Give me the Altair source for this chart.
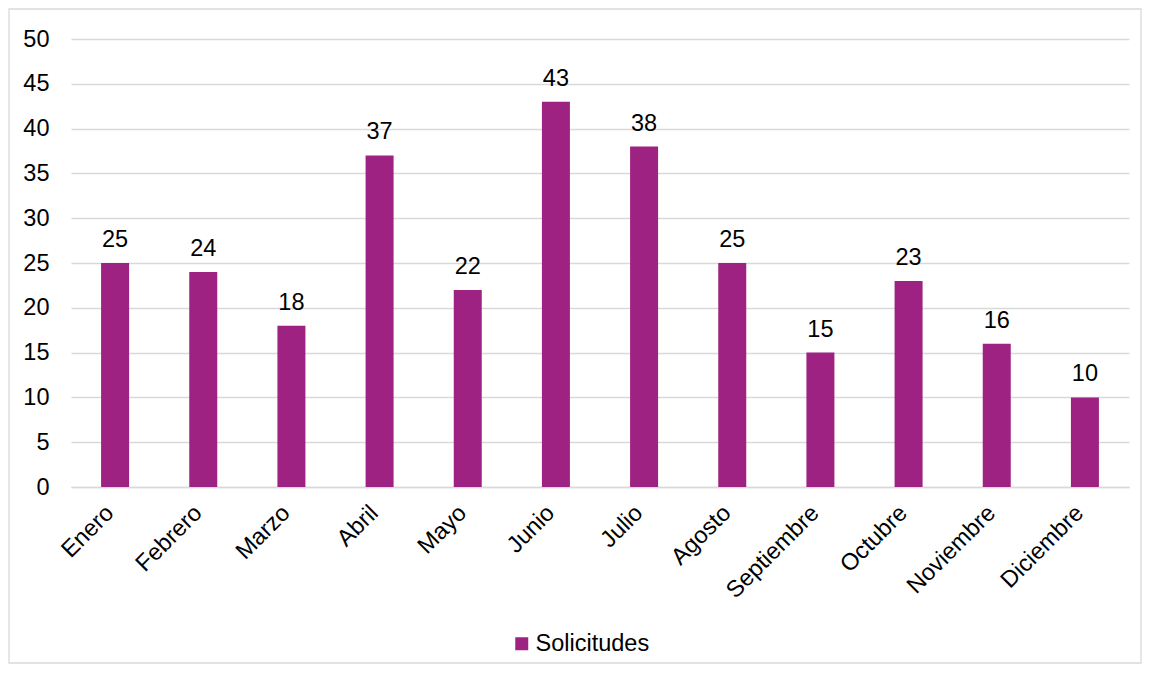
import altair as alt
import pandas as pd

months = ["Enero", "Febrero", "Marzo", "Abril", "Mayo", "Junio", "Julio",
          "Agosto", "Septiembre", "Octubre", "Noviembre", "Diciembre"]
values = [25, 24, 18, 37, 22, 43, 38, 25, 15, 23, 16, 10]
series = ["Solicitudes"] * len(months)

df = pd.DataFrame({"mes": months, "valor": values, "serie": series})

FONT = "Liberation Sans"
FS = 23.5
W, H = 1058, 448
COLOR = "#9E2281"

base = alt.Chart(df)

x = alt.X("mes:N", sort=months, title=None,
          scale=alt.Scale(paddingInner=0, paddingOuter=0),
          axis=alt.Axis(labelAngle=-45, labelAlign="right", labelBaseline="middle",
                        labelPadding=22, labelOffset=-5, ticks=False, domainColor="#d9d9d9",
                        domainWidth=1.3, labelFontSize=FS, labelColor="#000000",
                        labelFont=FONT))
y = alt.Y("valor:Q", title=None,
          scale=alt.Scale(domain=[0, 50]),
          axis=alt.Axis(values=list(range(0, 55, 5)), ticks=False, domain=False,
                        gridColor="#d9d9d9", gridWidth=1.3, labelPadding=22,
                        labelFontSize=FS, labelColor="#000000", labelFont=FONT))

bars = base.mark_bar(size=28).encode(
    x=x, y=y,
    color=alt.Color("serie:N", title=None,
                    scale=alt.Scale(domain=["Solicitudes"], range=[COLOR]),
                    legend=alt.Legend(orient="none", legendX=439, legendY=593,
                                      symbolType="square", symbolSize=169,
                                      symbolStrokeWidth=0, labelFontSize=FS,
                                      labelFont=FONT, labelColor="#000000",
                                      padding=0, labelOffset=2)))

labels = base.mark_text(baseline="alphabetic", dy=-16, fontSize=FS, font=FONT,
                        color="#000000").encode(
    x=alt.X("mes:N", sort=months), y="valor:Q", text="valor:Q")

border = alt.Chart(pd.DataFrame({"a": [0]})).mark_rect(
    fillOpacity=0, stroke="#d9d9d9", strokeWidth=1.3).encode(
    x=alt.value(-62), x2=alt.value(W + 12), y=alt.value(-30), y2=alt.value(H + 176))

chart = alt.layer(border, bars, labels).properties(
    width=W, height=H, padding=0, background="#ffffff"
).configure_view(stroke=None)

chart.save("out.html", embed_options={"renderer": "svg", "actions": False})
